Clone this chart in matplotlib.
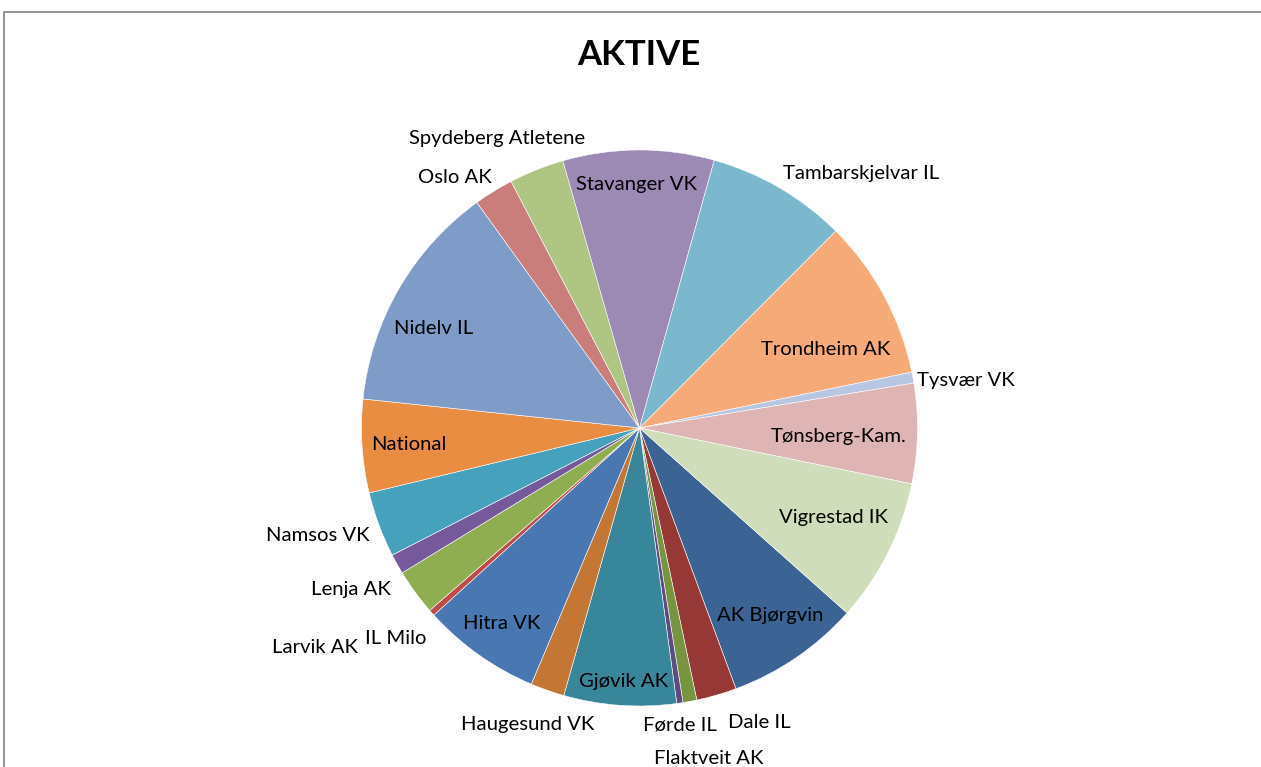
import matplotlib
matplotlib.use("Agg")
import matplotlib.pyplot as plt
from matplotlib.lines import Line2D

# ---- data ----
clubs = ["AK Bjørgvin", "Dale IL", "Flaktveit AK", "Førde IL", "Gjøvik AK",
         "Haugesund VK", "Hitra VK", "IL Milo", "Larvik AK", "Lenja AK",
         "Namsos VK", "National", "Nidelv IL", "Oslo AK", "Spydeberg Atletene",
         "Stavanger VK", "Tambarskjelvar IL", "Trondheim AK", "Tysvær VK",
         "Tønsberg-Kam.", "Vigrestad IK"]
aktive = [28.0, 8.4, 2.9, 1.3, 23.5,
          7.1, 24.8, 1.3, 9.6, 4.2,
          13.7, 19.5, 48.2, 8.3, 11.5,
          31.6, 29.3, 33.5, 2.3,
          20.9, 30.1]
colors = ["#3B6494", "#953836", "#779440", "#5F4B7F", "#37869A",
          "#C47634", "#4877B1", "#BE4B48", "#8FAE52", "#76599B",
          "#46A2BC", "#E88D42", "#7F9BC7", "#C97E7C", "#AEC584",
          "#9C89B4", "#7BB8CD", "#F6AA78", "#B7C6E2",
          "#DEB5B4", "#CFDDBA"]
title = "AKTIVE"

# label layout (pie-radius units)
label_pos = [(0.469, -0.665), (0.430, -1.050), (0.250, -1.180), (0.146, -1.058), (-0.059, -0.903),
             (-0.401, -1.058), (-0.495, -0.694), (-0.878, -0.748), (-1.167, -0.781), (-1.038, -0.572),
             (-1.156, -0.378), (-0.829, -0.050), (-0.739, 0.367), (-0.664, 0.910), (-0.513, 1.050),
             (-0.009, 0.885), (0.797, 0.924), (0.668, 0.291), (1.175, 0.180),
             (0.718, -0.022), (0.699, -0.313)]

W, H = 1261, 767
fig = plt.figure(figsize=(W / 100, H / 100), dpi=100)
fig.patch.set_facecolor("white")
ax = fig.add_axes([0, 0, 1, 1])
cx, cy, R = 639.5, 428.0, 278.0

ax.pie(aktive, colors=colors, startangle=-41.7, counterclock=False,
       radius=1.0, center=(0, 0), frame=True,
       wedgeprops=dict(edgecolor="white", linewidth=0.4))
ax.set_xlim(-cx / R, (W - cx) / R)
ax.set_ylim(-(H - cy) / R, cy / R)
ax.set_aspect("auto")
ax.axis("off")

font = ["Lato", "DejaVu Sans"]
dy = 2.5 / R
for name, (u, v) in zip(clubs, label_pos):
    ax.text(u, v - dy, name, ha="center", va="center", fontsize=14.6,
            family=font, color="black")

fig.text(639 / W, 1 - 55 / H, title, ha="center", va="center",
         fontsize=25, fontweight="bold", family=font)

# chart-area border
fig.add_artist(Line2D([3.5 / W, 3.5 / W, 1.0], [0.0, 1 - 12 / H, 1 - 12 / H],
                      transform=fig.transFigure, color="#8a8a8a", linewidth=1.3))

fig.savefig("out.png", dpi=100)
